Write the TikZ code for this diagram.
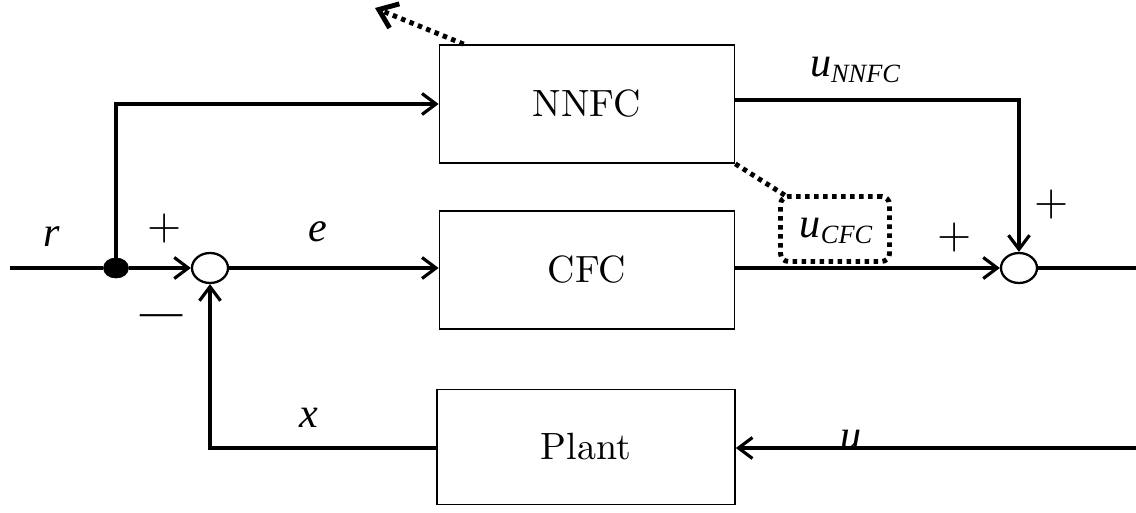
\documentclass[tikz,border=0pt]{standalone}
\usepackage{fontspec}
\newfontfamily\labelfont{Liberation Serif}
\newfontfamily\boxfont{lmroman10-regular.otf}
\usetikzlibrary{arrows.meta,calc,shapes.geometric}
\begin{document}
\begin{tikzpicture}[x=0.02cm,y=-0.02cm,
  blk/.style={draw,line width=1pt,minimum width=5.9cm,minimum height=2.36cm,
    inner sep=0pt,font=\boxfont\fontsize{21.6}{26}\selectfont},
  sumj/.style={draw,line width=1.3pt,ellipse,minimum width=0.72cm,minimum height=0.6cm,inner sep=0pt},
  sig/.style={line width=1.8pt},
  arr/.style={sig,-{Straight Barb[length=0.28cm,width=0.42cm,line width=1.8pt]}},
  dots/.style={line width=2.8pt,dash pattern=on 0.09cm off 0.09cm},
  lbl/.style={inner sep=0pt,font=\labelfont\itshape\fontsize{24}{28}\selectfont},
  sgn/.style={inner sep=0pt,font=\boxfont\fontsize{25}{28}\selectfont},
]
\useasboundingbox (0,0) rectangle (1136,513);

% blocks
\node[blk] (nnfc) at (587,104) {NNFC};
\node[blk] (cfc) at (587,270) {CFC};
\node[blk,minimum width=5.96cm,minimum height=2.3cm] (plant) at (586,447) {Plant};

% junctions
\node[ellipse,fill,draw,minimum width=0.5cm,minimum height=0.4cm,inner sep=0pt] (dot) at (116,268) {};
\node[sumj] (s1) at (210,268) {};
\node[sumj] (s2) at (1019,268) {};

% free ends
\coordinate (rin) at (10,268);
\coordinate (yout) at (1136,268);
\coordinate (uin) at (1136,448);
\coordinate (tip) at (375,8);

% signal lines
\draw[sig] (rin) -- (dot);
\draw[arr] (dot) -- (s1);
\draw[arr] (dot) |- (nnfc.west);
\draw[arr] (s1) -- (s1 -| cfc.west);
\draw[arr] (cfc.east |- s2) -- (s2.west);
\draw[arr] (nnfc.east |- 0,100) -| (s2.north);
\draw[sig] (s2) -- (yout);
\draw[arr] (uin) -- (plant.east |- uin);
\draw[arr] (plant.west |- uin) -| (s1.south);

% dotted annotation box and links
\node[draw,dots,rounded corners=0.16cm,minimum width=2.18cm,minimum height=1.3cm,inner sep=0pt] (ucfc) at (835,229) {};
\node[lbl] (ucfclbl) at (836,231) {u\raisebox{-0.35ex}{\fontsize{15}{17}\selectfont CFC}};
\draw[dots] (nnfc.south east) -- ($(ucfc.north west)+(8,2)$);
\draw[dots,-{Straight Barb[length=0.34cm,width=0.52cm,line width=2.8pt]}] ($(nnfc.north west)+(25,0)$) -- (tip);

% labels
\node[lbl] (lr) at (52,237) {r};
\node[lbl] (le) at (318,232) {e};
\node[lbl] (lx) at (309,418) {x};
\node[lbl] (lu) at (851,440) {u};
\node[lbl] (lunn) at (855,70) {u\raisebox{-0.35ex}{\fontsize{15}{17}\selectfont NNFC}};
\node[sgn] (p1) at (165,229) {+};
\node[sgn,font=\labelfont\fontsize{24}{28}\selectfont] (m1) at (162,320) {—};
\node[sgn] (p2) at (955,238) {+};
\node[sgn] (p3) at (1052,205) {+};
\end{tikzpicture}
\end{document}
